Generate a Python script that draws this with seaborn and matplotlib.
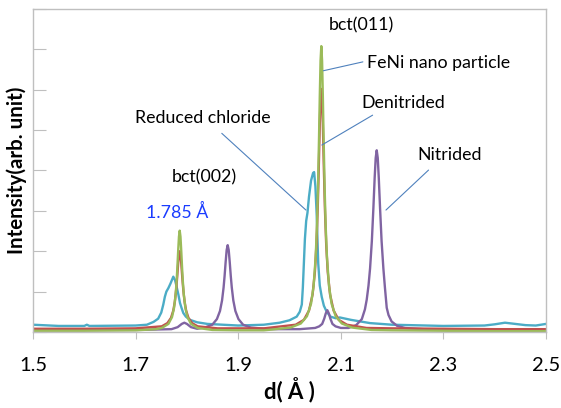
import pandas as pd
import matplotlib.pyplot as plt
import seaborn as sns

### XRD profiles vs d-spacing

# FeNi nano particle (green)
feni_d = [1.50, 1.60, 1.70, 1.74, 1.751, 1.764, 1.771, 1.775, 1.778, 1.780, 1.7815, 1.783, 1.7845, 1.786,
          1.7875, 1.789, 1.7905, 1.792, 1.794, 1.797, 1.801, 1.808, 1.821, 1.85, 1.90, 1.95,
          2.002, 2.022, 2.034, 2.042, 2.047, 2.051, 2.0535, 2.0555, 2.0575, 2.059, 2.0605, 2.062,
          2.0635, 2.065, 2.0665, 2.0685, 2.0705, 2.073, 2.077, 2.082, 2.090, 2.102, 2.122, 2.16,
          2.20, 2.30, 2.40, 2.50]
feni_i = [0.03, 0.03, 0.04, 0.07, 0.10, 0.20, 0.37, 0.60, 0.92, 1.27, 1.62, 2.01, 2.36, 2.51,
          2.36, 2.01, 1.62, 1.27, 0.92, 0.60, 0.37, 0.20, 0.10, 0.05, 0.04, 0.04,
          0.11, 0.21, 0.39, 0.70, 1.14, 1.86, 2.63, 3.56, 4.80, 5.84, 6.72, 7.08,
          6.72, 5.84, 4.80, 3.56, 2.63, 1.86, 1.14, 0.70, 0.39, 0.21, 0.11, 0.05,
          0.04, 0.03, 0.02, 0.02]

# Denitrided (red)
deni_d = [1.50, 1.60, 1.70, 1.751, 1.762, 1.769, 1.7735, 1.7765, 1.779, 1.781, 1.783, 1.7845, 1.786,
          1.7875, 1.789, 1.791, 1.793, 1.7955, 1.7985, 1.803, 1.810, 1.821, 1.86, 1.95,
          2.012, 2.028, 2.038, 2.045, 2.0495, 2.0525, 2.055, 2.057, 2.059, 2.0605, 2.062,
          2.0635, 2.065, 2.067, 2.069, 2.0715, 2.0745, 2.079, 2.086, 2.096, 2.112, 2.15,
          2.20, 2.30, 2.40, 2.50]
deni_i = [0.08, 0.08, 0.09, 0.14, 0.22, 0.35, 0.53, 0.75, 1.04, 1.35, 1.70, 1.91, 2.00,
          1.91, 1.70, 1.35, 1.04, 0.75, 0.53, 0.35, 0.22, 0.14, 0.09, 0.09,
          0.18, 0.30, 0.53, 0.93, 1.49, 2.17, 3.06, 4.03, 5.13, 5.80, 6.02,
          5.80, 5.13, 4.03, 3.06, 2.17, 1.49, 0.93, 0.53, 0.30, 0.18, 0.10,
          0.09, 0.08, 0.07, 0.07]

# Reduced chloride (cyan)
redc_d = [1.50, 1.55, 1.60, 1.605, 1.61, 1.70, 1.722, 1.735, 1.744, 1.750, 1.754, 1.757, 1.760, 1.764,
          1.768, 1.7735, 1.777, 1.780, 1.7835, 1.7865, 1.790, 1.793, 1.798, 1.806, 1.82, 1.84, 1.90,
          1.95, 1.981, 2.000, 2.014, 2.020, 2.024, 2.026, 2.028, 2.030, 2.0325, 2.035, 2.038, 2.042,
          2.046, 2.048, 2.0505, 2.053, 2.056, 2.059, 2.0628, 2.067, 2.0725, 2.080, 2.090, 2.098,
          2.12, 2.157, 2.20, 2.30, 2.38, 2.40, 2.42, 2.44, 2.46, 2.48, 2.50]
redc_i = [0.18, 0.15, 0.15, 0.18, 0.15, 0.16, 0.18, 0.25, 0.33, 0.48, 0.68, 0.87, 1.00, 1.09,
          1.20, 1.37, 1.28, 1.12, 0.92, 0.72, 0.58, 0.47, 0.38, 0.30, 0.24, 0.20, 0.16,
          0.18, 0.23, 0.29, 0.38, 0.50, 0.68, 1.10, 1.70, 2.30, 2.75, 2.95, 3.35, 3.75,
          3.94, 3.96, 3.60, 2.90, 1.70, 1.15, 0.87, 0.65, 0.50, 0.38, 0.34, 0.36,
          0.30, 0.22, 0.18, 0.15, 0.16, 0.19, 0.23, 0.20, 0.17, 0.16, 0.20]

# Nitrided (purple)
nitr_d = [1.50, 1.70, 1.77, 1.782, 1.790, 1.795, 1.800, 1.808, 1.82, 1.8345, 1.8495, 1.8585, 1.8645,
          1.8685, 1.8715, 1.8735, 1.8755, 1.8775, 1.8795, 1.8815, 1.8835, 1.8855, 1.8875, 1.8905,
          1.8945, 1.9005, 1.9095, 1.9245, 1.96, 2.02, 2.050, 2.058, 2.0637, 2.0677, 2.0707, 2.0737,
          2.0767, 2.0797, 2.0837, 2.0897, 2.100, 2.115, 2.13, 2.141, 2.147, 2.1505, 2.154, 2.157,
          2.1605, 2.1635, 2.166, 2.168, 2.170, 2.172, 2.174, 2.1765, 2.1795, 2.183, 2.186, 2.1895,
          2.193, 2.199, 2.21, 2.225, 2.26, 2.30, 2.40, 2.50]
nitr_i = [0.05, 0.05, 0.07, 0.12, 0.20, 0.23, 0.20, 0.12, 0.08, 0.11, 0.18, 0.32, 0.52,
          0.78, 1.10, 1.39, 1.73, 2.03, 2.15, 2.03, 1.73, 1.39, 1.10, 0.78,
          0.52, 0.32, 0.18, 0.11, 0.07, 0.07, 0.10, 0.14, 0.20, 0.33, 0.46, 0.54,
          0.46, 0.33, 0.20, 0.14, 0.10, 0.10, 0.17, 0.32, 0.56, 0.80, 1.15, 1.57,
          2.25, 3.07, 3.82, 4.31, 4.50, 4.31, 3.82, 3.07, 2.25, 1.57, 1.10, 0.60,
          0.42, 0.26, 0.15, 0.10, 0.07, 0.06, 0.06, 0.05]

series = ['Reduced chloride', 'Nitrided', 'Denitrided', 'FeNi nano particle']
colors = ['#4BACC6', '#8064A2', '#C0504D', '#9BBB59']

df = pd.concat([
    pd.DataFrame({'d': redc_d, 'I': redc_i, 'sample': series[0]}),
    pd.DataFrame({'d': nitr_d, 'I': nitr_i, 'sample': series[1]}),
    pd.DataFrame({'d': deni_d, 'I': deni_i, 'sample': series[2]}),
    pd.DataFrame({'d': feni_d, 'I': feni_i, 'sample': series[3]}),
])

sns.set_style('white')
plt.rcParams['font.family'] = ['Lato', 'DejaVu Sans']
plt.rcParams['text.color'] = 'black'
plt.rcParams['axes.labelcolor'] = 'black'
plt.rcParams['xtick.labelcolor'] = 'black'

fig = plt.figure(figsize=(5.61, 4.08), dpi=100)
ax = fig.add_axes([0.0588, 0.1863, 0.9145, 0.7917])

sns.lineplot(data=df, x='d', y='I', hue='sample', hue_order=series, palette=colors,
             estimator=None, sort=True, linewidth=1.7, legend=False, ax=ax)

ax.set_xlim(1.5, 2.5)
ax.set_ylim(0, 8)
ax.set_xticks([1.5, 1.7, 1.9, 2.1, 2.3, 2.5])
ax.set_xticklabels(['1.5', '1.7', '1.9', '2.1', '2.3', '2.5'], fontsize=14.5, color='black')
ax.set_yticks(range(0, 9))
ax.set_yticklabels([])
ax.tick_params(axis='x', direction='out', length=5, color='#bfbfbf', pad=13)
ax.tick_params(axis='y', direction='in', length=9, color='#bfbfbf')
ax.tick_params(axis='both', which='both', bottom=True, left=True)
for s in ax.spines.values():
    s.set_color('#bfbfbf')
    s.set_linewidth(1)

ax.set_xlabel('d( Å )', fontsize=16, fontweight='bold', labelpad=2, color='black')
ax.set_ylabel('Intensity(arb. unit)', fontsize=14.8, fontweight='bold', labelpad=1, color='black')

### labels and leader lines
lead = dict(arrowstyle='-', color='#4F81BD', lw=0.8, shrinkA=0, shrinkB=0)
fs = 12.8
ax.text(2.141, 7.60, 'bct(011)', ha='center', va='center', fontsize=fs, color='black')
ax.annotate('', xy=(2.066, 6.47), xytext=(2.143, 6.69), arrowprops=lead)
ax.text(2.291, 6.66, 'FeNi nano particle', ha='center', va='center', fontsize=fs, color='black')
ax.annotate('', xy=(2.063, 4.63), xytext=(2.162, 5.37), arrowprops=lead)
ax.text(2.221, 5.67, 'Denitrided', ha='center', va='center', fontsize=fs, color='black')
ax.annotate('', xy=(2.188, 3.02), xytext=(2.271, 4.01), arrowprops=lead)
ax.text(2.312, 4.38, 'Nitrided', ha='center', va='center', fontsize=fs, color='black')
ax.annotate('', xy=(2.032, 3.02), xytext=(1.868, 4.92), arrowprops=lead)
ax.text(1.831, 5.30, 'Reduced chloride', ha='center', va='center', fontsize=fs, color='black')
ax.text(1.833, 3.84, 'bct(002)', ha='center', va='center', fontsize=fs, color='black')
ax.text(1.782, 2.97, '1.785 Å', ha='center', va='center', fontsize=fs, color='#1a3cff')

plt.savefig('out.png', dpi=100)
